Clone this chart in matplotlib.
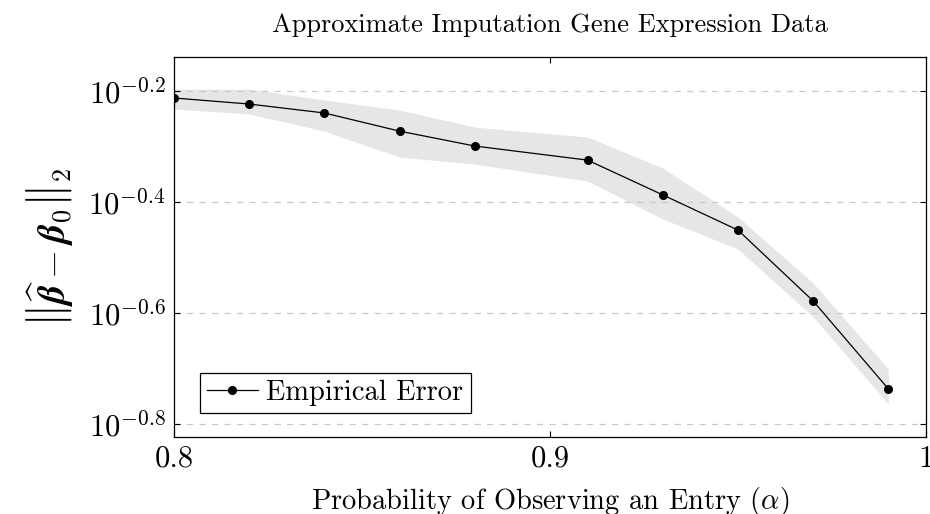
import numpy as np
import matplotlib
matplotlib.use("Agg")
import matplotlib.pyplot as plt
from matplotlib.ticker import FixedLocator, FixedFormatter, NullLocator

plt.rcParams['font.family'] = 'serif'
plt.rcParams['font.serif'] = ['cmr10']
plt.rcParams['mathtext.fontset'] = 'cm'
plt.rcParams['axes.unicode_minus'] = False
plt.rcParams['axes.formatter.use_mathtext'] = True

alpha = [0.80, 0.82, 0.84, 0.86, 0.88, 0.91, 0.93, 0.95, 0.97, 0.99]
err_mean = [0.6129, 0.5978, 0.5760, 0.5342, 0.5022, 0.4737, 0.4100, 0.3543, 0.2640, 0.1833]
err_upper = [0.6359, 0.6359, 0.6078, 0.5832, 0.5432, 0.5212, 0.4584, 0.3741, 0.2844, 0.1991]
err_lower = [0.5856, 0.5736, 0.5342, 0.4797, 0.4660, 0.4343, 0.3710, 0.3275, 0.2471, 0.1722]
ytick_exps = [-0.8, -0.6, -0.4, -0.2]
xticks = [0.8, 0.9, 1.0]
xtick_labels = ['0.8', '0.9', '1']

fig = plt.figure(figsize=(9.3, 5.14), dpi=100)
ax = fig.add_axes([174/930, 77/514, (926-174)/930, (437-57)/514])

ax.fill_between(alpha, err_lower, err_upper, color='#e6e6e6', linewidth=0, zorder=1)
ax.plot(alpha, err_mean, color='black', linewidth=0.9, marker='o', markersize=5.5,
        label='Empirical Error', zorder=3)

ax.set_yscale('log')
ax.set_xlim(0.8, 1.0)
ax.set_ylim(10**-0.8234, 10**-0.1387)
yt = [10**e for e in ytick_exps]
ax.yaxis.set_major_locator(FixedLocator(yt))
ax.yaxis.set_major_formatter(FixedFormatter([r'$10^{%s}$' % ('-%.1f' % abs(e)) for e in ytick_exps]))
ax.yaxis.set_minor_locator(NullLocator())
ax.xaxis.set_major_locator(FixedLocator(xticks))
ax.xaxis.set_major_formatter(FixedFormatter(xtick_labels))
ax.xaxis.set_minor_locator(NullLocator())

ax.grid(axis='y', which='major', linestyle=(0, (5, 5)), color='#c8c8c8', linewidth=0.9, zorder=0)
ax.tick_params(direction='in', length=4, width=0.8, labelsize=22, top=True, right=True, pad=6)
for s in ax.spines.values():
    s.set_linewidth(0.9)

ax.set_title('Approximate Imputation Gene Expression Data', fontsize=19, pad=18)
ax.set_xlabel(r'Probability of Observing an Entry $(\alpha)$', fontsize=20.5, labelpad=9)
ax.set_ylabel(r'$\left\|\widehat{\boldsymbol{\beta}} - \boldsymbol{\beta}_0\right\|_2$',
              fontsize=27, labelpad=10)

leg = ax.legend(loc='lower left', fontsize=20.5, fancybox=False, edgecolor='black',
                framealpha=1, borderpad=0.25, handlelength=1.8, handletextpad=0.3,
                bbox_to_anchor=(0.015, 0.025))
leg.get_frame().set_linewidth(0.9)

fig.savefig('out.png', dpi=100)
